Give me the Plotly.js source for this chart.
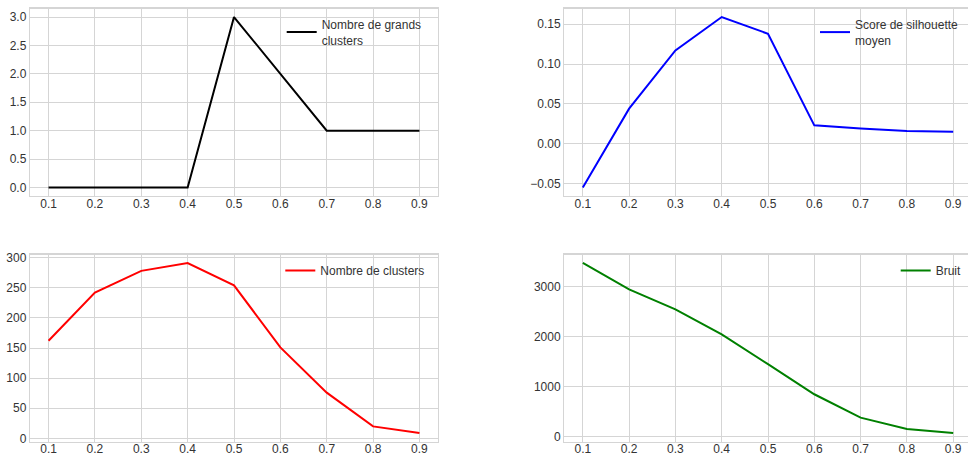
<!DOCTYPE html>
<html>
<head>
<meta charset="utf-8">
<script src="https://cdn.plot.ly/plotly-3.0.1.min.js"></script>
<style>html,body{margin:0;padding:0;background:#fff}#chart{width:968px;height:457px}</style>
</head>
<body>
<div id="chart"></div>
<script>
// Data
const eps = [0.1, 0.2, 0.3, 0.4, 0.5, 0.6, 0.7, 0.8, 0.9];
const nbGrandsClusters = [0, 0, 0, 0, 3, 2, 1, 1, 1];
const silhouette = [-0.055, 0.044, 0.117, 0.159, 0.138, 0.023, 0.019, 0.016, 0.015];
const nbClusters = [162, 242, 278, 291, 254, 151, 76, 20, 9];
const bruit = [3476, 2947, 2545, 2043, 1447, 844, 375, 147, 67];
const xTickLabels = ["0.1", "0.2", "0.3", "0.4", "0.5", "0.6", "0.7", "0.8", "0.9"];

const names = ["Nombre de grands<br>clusters", "Score de silhouette<br>moyen", "Nombre de clusters", "Bruit"];
const colors = ["#000000", "#0000ff", "#ff0000", "#008000"];

const W = 968, H = 457;
const txt = "#333333";
const grid = "#d5d5d5";
const font = {family: "Liberation Sans, Arial, sans-serif", size: 12, color: txt};

function px(a, b, total) { return [a / total, b / total]; }

const traces = [
  {x: eps, y: nbGrandsClusters, xaxis: "x", yaxis: "y", legend: "legend"},
  {x: eps, y: silhouette, xaxis: "x2", yaxis: "y2", legend: "legend2"},
  {x: eps, y: nbClusters, xaxis: "x3", yaxis: "y3", legend: "legend3"},
  {x: eps, y: bruit, xaxis: "x4", yaxis: "y4", legend: "legend4"}
].map((t, i) => Object.assign(t, {
  type: "scatter", mode: "lines", name: names[i], showlegend: true,
  line: {color: colors[i], width: 2}
}));

function xax(domain, range, anchor, mirror) {
  return {
    domain: domain, range: range, anchor: anchor,
    tickmode: "array", tickvals: eps, ticktext: xTickLabels,
    showgrid: true, gridcolor: grid, gridwidth: 1, zeroline: false,
    showline: true, linecolor: grid, linewidth: 1.25, mirror: mirror,
    ticks: "", ticklabelstandoff: -4, tickfont: font, fixedrange: true
  };
}
function yax(domain, range, anchor, dtick, fmt, mirror) {
  return {
    domain: domain, range: range, anchor: anchor, dtick: dtick, tick0: 0,
    tickformat: fmt,
    showgrid: true, gridcolor: grid, gridwidth: 1, zeroline: false,
    showline: true, linecolor: grid, linewidth: 1.25, mirror: mirror,
    ticks: "", tickfont: font, fixedrange: true
  };
}

const topY = [1 - 196 / H, 1 - 8.5 / H];
const botY = [1 - 441.5 / H, 1 - 254.5 / H];
const leftX = px(30, 438, W);
const rightX = px(564.3, 968, W);

function leg(xText, yTop) {
  return {
    x: (xText - 40) / W, y: 1 - yTop / H, xanchor: "left", yanchor: "top",
    bgcolor: "rgba(0,0,0,0)", borderwidth: 0, font: font, itemwidth: 30,
    tracegroupgap: 0
  };
}

const layout = {
  width: W, height: H,
  margin: {l: 0, r: 0, t: 0, b: 0, pad: 0},
  paper_bgcolor: "#ffffff", plot_bgcolor: "#ffffff",
  font: font,
  xaxis: xax(leftX, [0.06, 0.94], "y", true),
  yaxis: yax(topY, [-0.15, 3.15], "x", 0.5, ".1f", true),
  xaxis2: xax(rightX, [0.06, 0.932], "y2", true),
  yaxis2: yax(topY, [-0.0657, 0.1697], "x2", 0.05, ".2f", false),
  xaxis3: xax(leftX, [0.06, 0.94], "y3", true),
  yaxis3: yax(botY, [-5.1, 305.1], "x3", 50, "d", true),
  xaxis4: xax(rightX, [0.06, 0.932], "y4", true),
  yaxis4: yax(botY, [-103, 3646], "x4", 1000, "d", false),
  legend: leg(321.7, 10),
  legend2: leg(855, 10),
  legend3: leg(320.3, 256),
  legend4: leg(935.7, 256),
  showlegend: true
};

Plotly.newPlot("chart", traces, layout, {displayModeBar: false, staticPlot: true});
</script>
</body>
</html>
